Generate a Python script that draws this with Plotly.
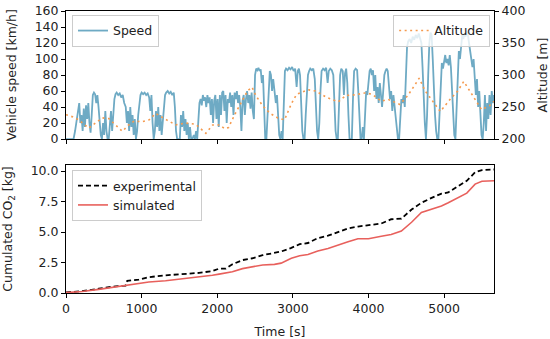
import plotly.graph_objects as go

# ---------------- data ----------------
speed_t = [0, 60, 100, 120, 140, 160, 175, 190, 205, 220, 235, 250, 265, 280, 295, 310, 325, 340, 355, 370,
           385, 400, 415, 430, 445, 460, 475, 490, 505, 520, 535, 550, 565, 580, 595, 610, 625, 640, 655, 670,
           690, 710, 730, 750, 770, 790, 805, 820, 835, 850, 865, 880, 895, 910, 925, 940, 955, 970, 985, 1000,
           1020, 1040, 1060, 1080, 1100, 1115, 1130, 1145, 1160, 1175, 1190, 1205, 1220, 1235, 1250, 1265, 1280, 1295, 1310, 1325,
           1345, 1365, 1385, 1405, 1425, 1440, 1455, 1470, 1490, 1505, 1520, 1535, 1550, 1565, 1580, 1595, 1610, 1625, 1640, 1655,
           1670, 1690, 1705, 1720, 1735, 1750, 1765, 1780, 1795, 1810, 1825, 1840, 1855, 1870, 1885, 1900, 1915, 1930, 1945, 1960,
           1975, 1990, 2005, 2020, 2035, 2050, 2065, 2080, 2095, 2110, 2125, 2140, 2155, 2170, 2185, 2200, 2215, 2230, 2245, 2260,
           2275, 2290, 2305, 2320, 2335, 2350, 2365, 2380, 2395, 2410, 2425, 2440, 2455, 2470, 2485, 2500, 2515, 2530, 2545, 2560,
           2575, 2590, 2605, 2620, 2635, 2650, 2665, 2680, 2695, 2710, 2725, 2740, 2760, 2775, 2790, 2805, 2820, 2835, 2850, 2865,
           2880, 2895, 2910, 2930, 2950, 2970, 2990, 3010, 3030, 3050, 3065, 3080, 3095, 3110, 3125, 3140, 3155, 3170, 3185, 3200,
           3215, 3230, 3250, 3270, 3290, 3305, 3320, 3335, 3350, 3365, 3380, 3400, 3420, 3440, 3460, 3475, 3495, 3515, 3535, 3550,
           3565, 3580, 3595, 3610, 3625, 3640, 3660, 3675, 3690, 3705, 3720, 3735, 3750, 3765, 3780, 3795, 3810, 3830, 3850, 3865,
           3880, 3895, 3910, 3925, 3940, 3955, 3970, 3985, 4000, 4015, 4030, 4045, 4060, 4075, 4090, 4105, 4120, 4135, 4150, 4165,
           4180, 4195, 4210, 4225, 4240, 4255, 4270, 4285, 4300, 4315, 4330, 4345, 4360, 4375, 4390, 4405, 4420, 4435, 4450, 4465,
           4480, 4495, 4510, 4525, 4545, 4565, 4585, 4605, 4625, 4645, 4665, 4685, 4700, 4715, 4730, 4745, 4760, 4775, 4790, 4805,
           4820, 4835, 4850, 4865, 4880, 4895, 4910, 4925, 4940, 4955, 4970, 4985, 5000, 5015, 5030, 5045, 5060, 5075, 5090, 5105,
           5120, 5135, 5150, 5165, 5180, 5195, 5210, 5225, 5240, 5255, 5270, 5285, 5300, 5315, 5330, 5345, 5360, 5375, 5390, 5405,
           5420, 5435, 5450, 5465, 5480, 5495, 5510, 5525, 5540, 5555, 5570, 5585, 5600, 5615, 5630, 5645, 5660]
speed_v = [0, 0, 0, 10, 25, 40, 45, 20, 30, 10, 38, 15, 42, 25, 45, 20, 8, 30, 55, 58,
           56, 45, 55, 40, 20, 5, 0, 20, 5, 35, 10, 0, 0, 15, 35, 10, 30, 50, 56, 58,
           55, 57, 52, 55, 45, 40, 20, 35, 10, 40, 15, 30, 5, 25, 0, 10, 30, 45, 55, 58,
           56, 58, 55, 57, 52, 35, 55, 20, 0, 10, 35, 15, 40, 10, 30, 5, 25, 40, 55, 58,
           60, 57, 59, 55, 58, 40, 10, 0, 0, 0, 30, 15, 35, 10, 25, 5, 20, 0, 15, 0,
           0, 5, 0, 10, 0, 20, 45, 50, 42, 55, 48, 52, 40, 55, 45, 52, 30, 50, 20, 48,
           55, 25, 50, 15, 55, 30, 58, 60, 35, 55, 20, 50, 45, 58, 40, 55, 30, 58, 50, 60,
           45, 55, 40, 10, 48, 55, 30, 50, 60, 45, 55, 38, 58, 35, 25, 80, 88, 86, 89, 85,
           87, 70, 80, 40, 0, 0, 30, 70, 85, 80, 60, 75, 60, 45, 55, 20, 5, 0, 10, 0,
           40, 85, 88, 86, 89, 87, 90, 85, 88, 65, 85, 88, 80, 50, 10, 0, 0, 30, 60, 80,
           85, 88, 86, 88, 75, 40, 10, 0, 20, 60, 85, 88, 86, 89, 70, 85, 88, 86, 80, 45,
           10, 0, 0, 40, 80, 88, 85, 55, 82, 88, 70, 30, 0, 0, 0, 50, 85, 88, 86, 60,
           20, 0, 0, 15, 0, 30, 60, 55, 75, 85, 88, 80, 86, 60, 80, 50, 65, 45, 70, 55,
           40, 60, 80, 85, 88, 85, 70, 50, 60, 35, 55, 40, 20, 5, 0, 0, 30, 50, 45, 55,
           40, 80, 115, 122, 125, 120, 128, 124, 130, 126, 132, 125, 120, 90, 50, 20, 0, 30, 80, 120,
           133, 130, 100, 60, 30, 10, 0, 0, 40, 80, 95, 88, 100, 105, 95, 100, 92, 105, 90, 60,
           30, 5, 0, 40, 90, 110, 100, 120, 130, 125, 132, 128, 135, 130, 120, 110, 95, 90, 100, 70,
           55, 75, 40, 60, 30, 5, 0, 20, 55, 10, 45, 25, 55, 30, 60, 45, 55]

alt_t = [0, 80, 170, 255, 300, 390, 480, 565, 650, 745, 830, 900, 1000, 1100, 1185, 1250, 1330, 1450, 1580, 1715,
         1800, 1850, 1940, 2030, 2100, 2150, 2230, 2330, 2400, 2460, 2510, 2600, 2700, 2800, 2890, 2980, 3050, 3200, 3300, 3450,
         3600, 3700, 3820, 3950, 4050, 4170, 4260, 4415, 4520, 4600, 4670, 4750, 4850, 4950, 5080, 5180, 5260, 5400, 5495, 5600, 5660]
alt_v = [238, 235, 230, 222, 217, 225, 233, 232, 222, 212, 222, 228, 227, 230, 240, 236, 230, 222, 225, 223,
         215, 209, 222, 222, 216, 218, 238, 260, 275, 281, 268, 252, 240, 233, 230, 255, 270, 277, 275, 265,
         258, 268, 269, 272, 270, 259, 262, 254, 268, 282, 295, 275, 258, 243, 262, 275, 290, 263, 246, 252, 259]

co2_t = [0, 212, 433, 654, 787, 810, 963, 1096, 1317, 1538, 1760, 1936, 2025, 2113, 2200, 2334, 2466, 2600, 2757, 2845,
         2980, 3090, 3200, 3330, 3465, 3600, 3730, 3860, 4000, 4170, 4300, 4435, 4570, 4700, 4835, 4965, 5055, 5190, 5300, 5410,
         5500, 5660]
co2_exp = [0.05, 0.15, 0.35, 0.55, 0.6, 1.0, 1.1, 1.3, 1.45, 1.55, 1.65, 1.8, 2.0, 2.0, 2.35, 2.7, 2.85, 3.1, 3.3, 3.4,
           3.7, 4.0, 4.1, 4.5, 4.7, 5.0, 5.3, 5.45, 5.55, 5.7, 6.05, 6.1, 6.85, 7.4, 7.8, 8.15, 8.25, 8.8, 9.2, 9.9,
           10.08, 10.13]
co2_sim = [0.03, 0.12, 0.3, 0.5, 0.65, 0.7, 0.8, 0.9, 1.0, 1.15, 1.3, 1.45, 1.55, 1.65, 1.75, 2.0, 2.15, 2.3, 2.35, 2.45,
           2.85, 3.05, 3.16, 3.45, 3.65, 3.95, 4.2, 4.45, 4.45, 4.65, 4.8, 5.08, 5.8, 6.6, 6.87, 7.14, 7.4, 7.8, 8.19, 8.93,
           9.17, 9.2]

x_ticks = [0, 1000, 2000, 3000, 4000, 5000]

# ---------------- figure ----------------
FONT = dict(family="DejaVu Sans", size=12.5, color="#222222")

fig = go.Figure()
fig.add_trace(go.Scatter(x=speed_t, y=speed_v, mode="lines", name="Speed",
                         line=dict(color="#6eaac4", width=1.8), xaxis="x", yaxis="y", legend="legend"))
fig.add_trace(go.Scatter(x=alt_t, y=alt_v, mode="lines", name="Altitude",
                         line=dict(color="#f59a4e", width=1.6, dash="2px,3.5px"), xaxis="x", yaxis="y2",
                         legend="legend2"))
fig.add_trace(go.Scatter(x=co2_t, y=co2_exp, mode="lines", name="experimental",
                         line=dict(color="black", width=1.8, dash="5px,3px"), xaxis="x2", yaxis="y3",
                         legend="legend3", legendrank=1))
fig.add_trace(go.Scatter(x=co2_t, y=co2_sim, mode="lines", name="simulated",
                         line=dict(color="#e8605c", width=1.6), xaxis="x2", yaxis="y3", legend="legend3",
                         legendrank=2))

axis_common = dict(showline=True, linecolor="black", linewidth=1, mirror=True, ticks="outside",
                   ticklen=4, tickcolor="black", showgrid=False, zeroline=False, tickfont=FONT,
                   automargin=False)

fig.update_layout(
    width=550, height=339,
    margin=dict(l=66, r=56, t=11, b=46),
    paper_bgcolor="white", plot_bgcolor="white",
    font=FONT,
    xaxis=dict(axis_common, domain=[0, 1], range=[0, 5660], tickvals=x_ticks, showticklabels=False,
               anchor="y"),
    yaxis=dict(axis_common, domain=[0.546, 1], range=[0, 160], dtick=20,
               title=dict(text="Vehicle speed [km/h]", font=FONT)),
    yaxis2=dict(axis_common, overlaying="y", side="right", range=[200, 400], dtick=50, mirror=False,
                title=dict(text="Altitude [m]", font=FONT), anchor="x"),
    xaxis2=dict(axis_common, domain=[0, 1], range=[0, 5660], tickvals=x_ticks, anchor="y3",
                title=dict(text="Time [s]", font=FONT)),
    yaxis3=dict(axis_common, domain=[0, 0.454], range=[0, 10.5], tickvals=[0, 2.5, 5, 7.5, 10],
                tickformat=".1f", anchor="x2",
                title=dict(text="Cumulated CO<sub>2</sub> [kg]", font=FONT)),
    legend=dict(x=0.014, y=0.986, xanchor="left", yanchor="top", bgcolor="rgba(255,255,255,0.8)",
                bordercolor="#cccccc", borderwidth=1, font=FONT, itemwidth=30, tracegroupgap=0),
    legend2=dict(x=0.991, y=0.986, xanchor="right", yanchor="top", bgcolor="rgba(255,255,255,0.8)",
                 bordercolor="#cccccc", borderwidth=1, font=FONT, itemwidth=30),
    legend3=dict(x=0.014, y=0.436, xanchor="left", yanchor="top", bgcolor="rgba(255,255,255,0.8)",
                 bordercolor="#cccccc", borderwidth=1, font=FONT, itemwidth=30, tracegroupgap=0,
                 traceorder="normal"),
    showlegend=True,
)

# remove the browser's default 8px body margin so the figure sits at the page origin
fig.write_html("out.html", config={"displayModeBar": False},
               post_script="document.body.style.margin='0';document.body.style.overflow='hidden';")
